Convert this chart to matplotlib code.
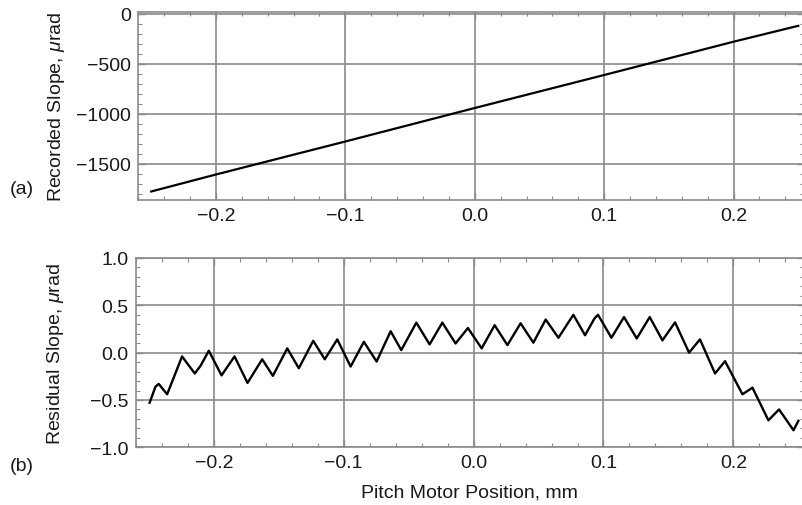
import numpy as np
import matplotlib
matplotlib.use("Agg")
import matplotlib.pyplot as plt
from matplotlib.ticker import MultipleLocator

plt.rcParams['font.family'] = ['Liberation Sans', 'DejaVu Sans']
plt.rcParams['mathtext.fontset'] = 'custom'
plt.rcParams['mathtext.it'] = 'Liberation Sans:italic'
plt.rcParams['mathtext.rm'] = 'Liberation Sans'

# (a) recorded slope vs pitch motor position
pos_a = [-0.25, -0.2, -0.1, 0.0, 0.1, 0.2, 0.25]
slope_a = [-1775, -1605, -1275, -940, -610, -277, -118]

pos_b = [-0.2495, -0.245, -0.2425, -0.236, -0.2245, -0.2147, -0.2103, -0.2039,
         -0.1941, -0.1841, -0.1741, -0.1628, -0.1546, -0.1435, -0.1346, -0.1235,
         -0.1146, -0.1050, -0.0947, -0.0845, -0.0747, -0.0639, -0.0557, -0.0441,
         -0.0339, -0.0241, -0.0139, -0.0044, 0.0062, 0.0162, 0.0260, 0.0362,
         0.0460, 0.0555, 0.0653, 0.0768, 0.0858, 0.0930, 0.0958, 0.1061, 0.1158,
         0.1256, 0.1356, 0.1454, 0.1551, 0.1659, 0.1743, 0.1859, 0.1936, 0.2070,
         0.2147, 0.2270, 0.2352, 0.2463, 0.2501]
resid_b = [-0.53, -0.36, -0.33, -0.44, -0.04, -0.22, -0.14, 0.02,
           -0.24, -0.04, -0.32, -0.07, -0.245, 0.045, -0.165, 0.125,
           -0.07, 0.14, -0.147, 0.115, -0.094, 0.226, 0.027, 0.317,
           0.087, 0.317, 0.097, 0.26, 0.045, 0.29, 0.08, 0.31,
           0.105, 0.35, 0.157, 0.40, 0.184, 0.36, 0.40, 0.157, 0.376,
           0.15, 0.376, 0.13, 0.32, 0.0, 0.14, -0.22, -0.09, -0.44,
           -0.37, -0.715, -0.60, -0.82, -0.72]

grid_c = '#8a8a8a'
text_c = '#1a1a1a'
fs = 14

fig = plt.figure(figsize=(8.03, 5.06), dpi=100)
ax1 = fig.add_axes([138/803, 1 - 201/506, 666/803, 187.7/506])
ax2 = fig.add_axes([135.7/803, 1 - 448.3/506, 668.3/803, 189.3/506])

for ax in (ax1, ax2):
    ax.set_xlim(-0.2602, 0.2544)
    ax.xaxis.set_major_locator(MultipleLocator(0.1))
    ax.xaxis.set_minor_locator(MultipleLocator(0.02))
    ax.grid(True, which='major', color=grid_c, lw=1.2)
    ax.tick_params(which='both', direction='in', top=True, right=True,
                   color=grid_c, labelsize=fs, labelcolor=text_c)
    ax.tick_params(which='major', length=5, width=1, pad=5)
    ax.tick_params(which='minor', length=3, width=0.8)
    for s in ax.spines.values():
        s.set_color(grid_c)
        s.set_linewidth(1.2)
    ax.xaxis.set_major_formatter(plt.FuncFormatter(
        lambda v, p: ('%.1f' % v).replace('-', '\u2212') if abs(v) > 1e-9 else '0.0'))

ax1.plot(pos_a, slope_a, color='black', lw=1.6)
ax1.set_ylim(-1860, 17)
ax1.yaxis.set_major_locator(MultipleLocator(500))
ax1.yaxis.set_minor_locator(MultipleLocator(100))
ax1.yaxis.set_major_formatter(plt.FuncFormatter(
    lambda v, p: ('%d' % v).replace('-', '\u2212')))
ax1.set_ylabel(r'Recorded Slope, $\mu$rad', fontsize=fs, color=text_c)
ax1.yaxis.set_label_coords(-0.107, 0.5)

ax2.plot(pos_b, resid_b, color='black', lw=1.7, solid_joinstyle='round')
ax2.set_ylim(-1.0, 1.0)
ax2.yaxis.set_major_locator(MultipleLocator(0.5))
ax2.yaxis.set_minor_locator(MultipleLocator(0.1))
ax2.yaxis.set_major_formatter(plt.FuncFormatter(
    lambda v, p: ('%.1f' % v).replace('-', '\u2212')))
ax2.set_ylabel(r'Residual Slope, $\mu$rad', fontsize=fs, color=text_c)
ax2.yaxis.set_label_coords(-0.104, 0.5)
ax2.set_xlabel('Pitch Motor Position, mm', fontsize=fs, color=text_c, labelpad=9)

fig.text(10/803, 1 - 190/506, '(a)', fontsize=fs, color=text_c, va='center')
fig.text(10/803, 1 - 467/506, '(b)', fontsize=fs, color=text_c, va='center')

fig.savefig('out.png', dpi=100)
